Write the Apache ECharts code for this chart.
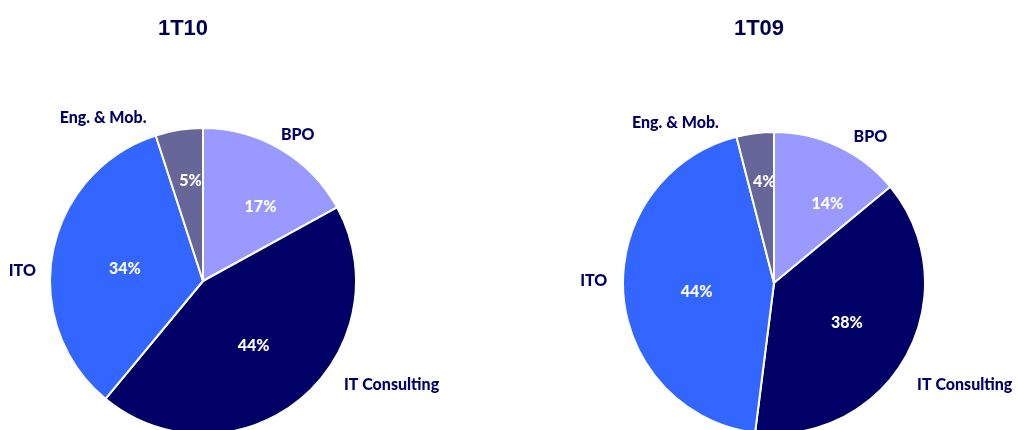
<!DOCTYPE html>
<html>
<head>
<meta charset="utf-8">
<script src="https://cdn.jsdelivr.net/npm/echarts@6/dist/echarts.min.js"></script>
<style>
  html, body { margin: 0; padding: 0; background: #fff; }
  #main { width: 1018px; height: 430px; }
</style>
</head>
<body>
<div id="main"></div>
<script>
var categories = ["BPO", "IT Consulting", "ITO", "Eng. & Mob."];
var values1T10 = [17, 44, 34, 5];
var values1T09 = [14, 38, 44, 4];
var titles = ["1T10", "1T09"];

var colors = ["#9999FF", "#000066", "#3366FF", "#666699"];

// small nudges so the labels sit where the original ones are
var outerOffsets = [
	[[-10, -6], [32, -22], [-2, 20], [-26, -2]],
	[[6, 0], [-3, 24], [-1, -12], [-30, 0]]
];
var innerOffsets = [
	[[17, -6], [0, 4], [0, 3], [0, -22]],
	[[20, -8], [4, 2], [1, 4], [0, -23]]
];

var chart = echarts.init(document.getElementById('main'));

var buildData = function(values, idx, inner){
	var list = [];
	for(var i = 0; i < categories.length; i++){
		var item = {
			name: categories[i],
			value: values[i],
			itemStyle: { color: inner ? colors[i] : 'transparent' }
		};
		item.label = { offset: inner ? innerOffsets[idx][i] : outerOffsets[idx][i] };
		list.push(item);
	}
	return list;
};

var labelFont = {
	fontFamily: 'Lato',
	fontWeight: 900,
	fontSize: 16
};

var makeSeries = function(values, idx, center, r){
	var base = {
		type: 'pie',
		center: center,
		radius: [0, r],
		startAngle: 90,
		clockwise: true,
		avoidLabelOverlap: false,
		animation: false,
		silent: true
	};
	// percentages inside slices
	var inner = Object.assign({}, base, {
		itemStyle: { borderColor: '#ffffff', borderWidth: 2 },
		label: Object.assign({
			show: true,
			position: 'inside',
			formatter: '{c}%',
			color: '#ffffff'
		}, labelFont),
		labelLine: { show: false },
		data: buildData(values, idx, true)
	});
	// category names outside
	var outer = Object.assign({}, base, {
		itemStyle: { color: 'transparent', borderWidth: 0 },
		label: Object.assign({
			show: true,
			position: 'outside',
			formatter: '{b}',
			color: '#000066'
		}, labelFont),
		labelLine: { show: false, length: 10, length2: 0 },
		data: buildData(values, idx, false)
	});
	return [inner, outer];
};

var titleStyle = { fontFamily: 'Liberation Sans', fontWeight: 'bold', fontSize: 22, color: '#000055' };

var option = {
	backgroundColor: '#ffffff',
	title: [{
		text: titles[0],
		left: 178,
		top: 13,
		textAlign: 'center',
		textStyle: titleStyle
	}, {
		text: titles[1],
		left: 754,
		top: 13,
		textAlign: 'center',
		textStyle: titleStyle
	}],
	series: [].concat(
		makeSeries(values1T10, 0, [203, 281], 153),
		makeSeries(values1T09, 1, [774, 283], 151)
	)
};

chart.setOption(option);
</script>
</body>
</html>
